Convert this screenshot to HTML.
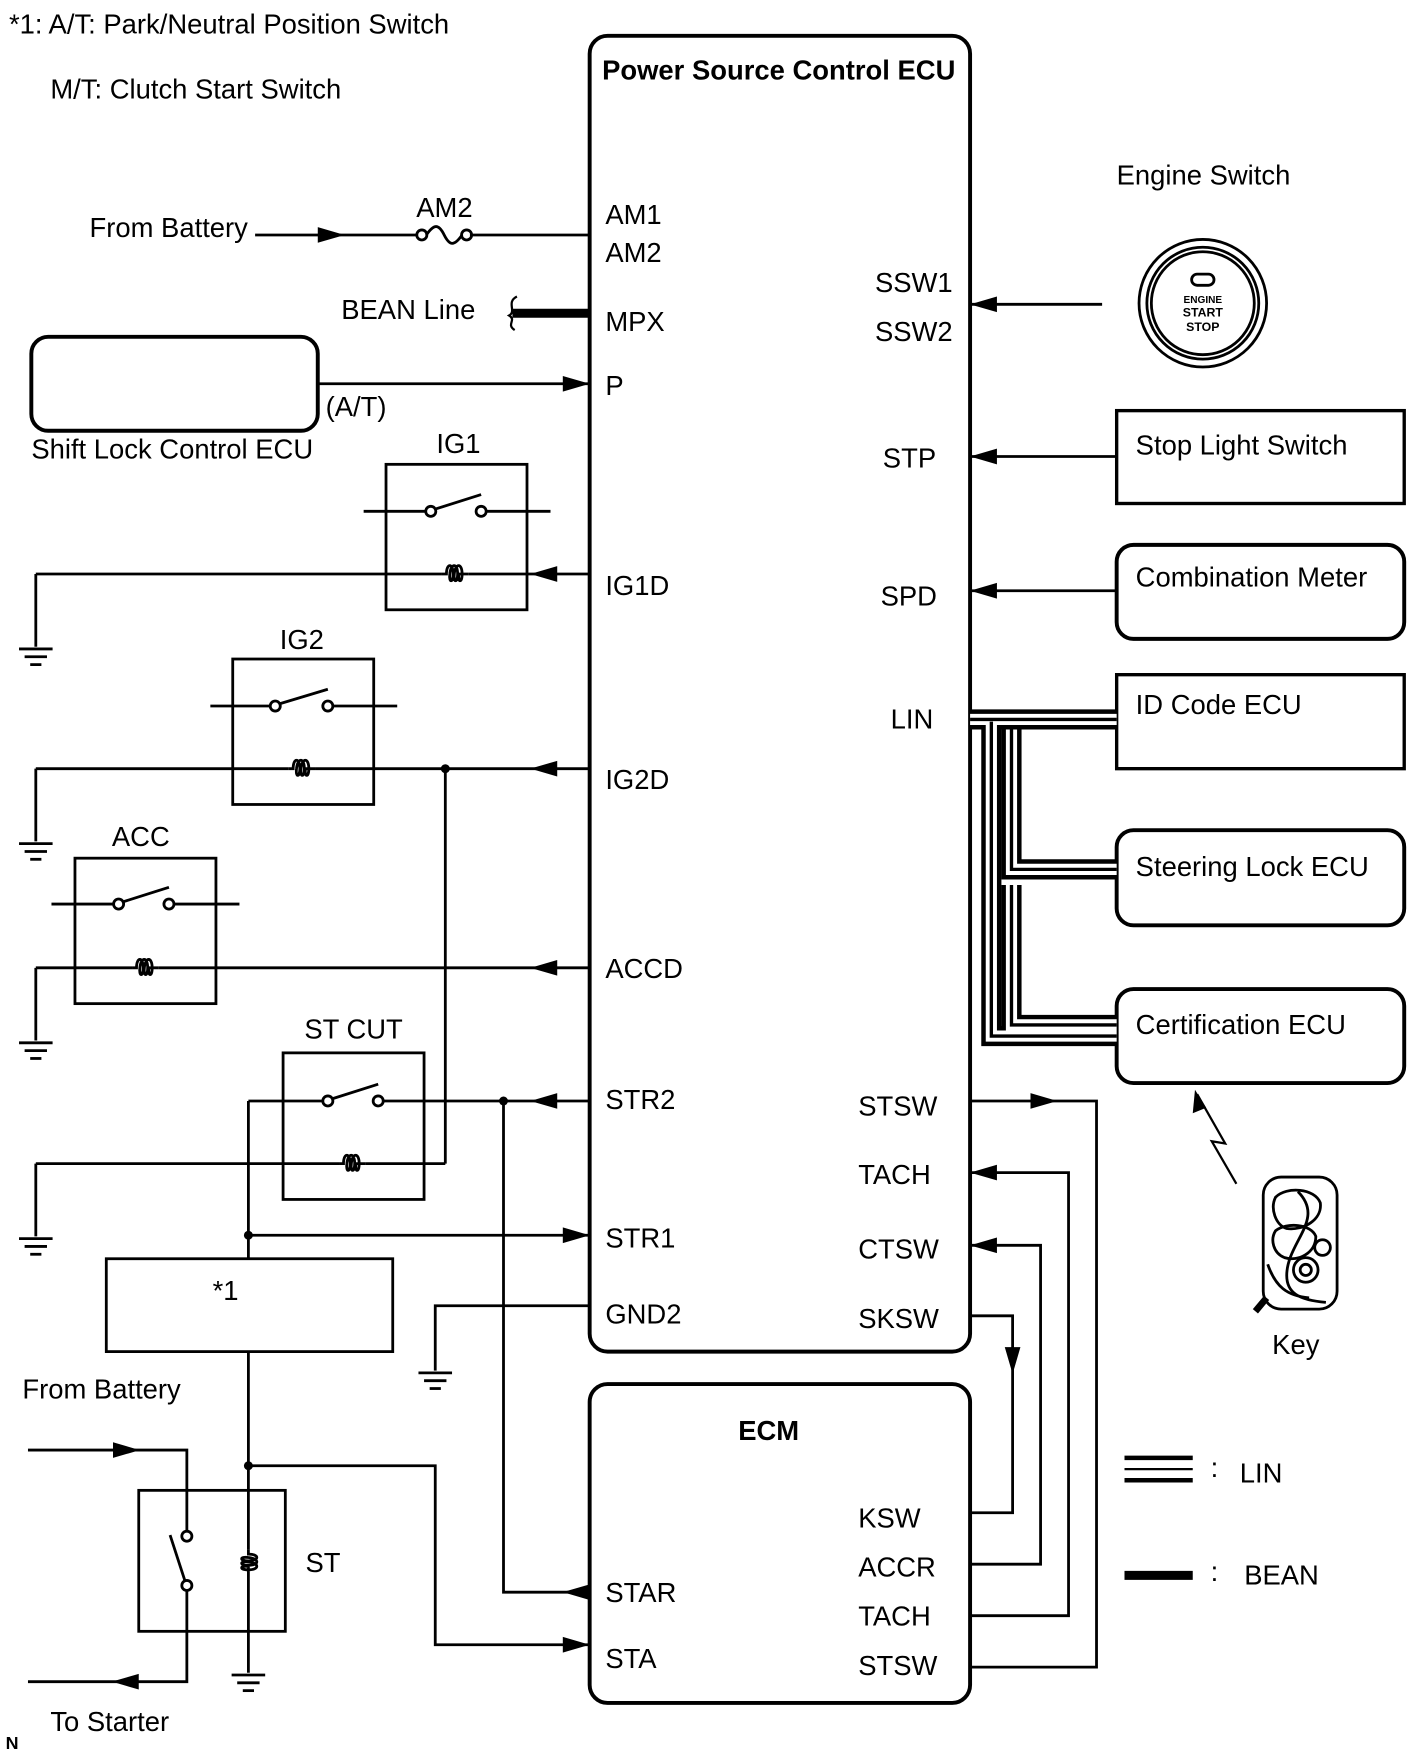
<!DOCTYPE html>
<html><head><meta charset="utf-8"><style>
html,body{margin:0;padding:0;background:#fff;}
svg{display:block;}
text{font-family:"Liberation Sans",sans-serif;font-size:24.5px;fill:#000;}
.b{font-weight:bold;}
</style></head><body>
<svg width="1421" height="1760" viewBox="0 0 1270 1573" preserveAspectRatio="none" xmlns="http://www.w3.org/2000/svg">
<defs>
<polygon id="ar" points="0,0 -24,-7 -24,7" fill="#000"/>
<g id="gnd" stroke="#000" stroke-width="2.5"><line x1="-15" y1="0" x2="15" y2="0"/><line x1="-10" y1="7" x2="10" y2="7"/><line x1="-5" y1="14" x2="5" y2="14"/></g>
<path id="coil" d="M-12,0 H-8 C-8,-10 -2,-10 -2,0 C-2,8 -6,8 -5,0 C-4,-10 2,-10 2,0 C2,8 -2,8 -1,0 C0,-10 6,-10 6,0 C6,8 2,8 3,0 H12" fill="none" stroke="#000" stroke-width="2.5"/>
</defs>
<rect width="1270" height="1573" fill="#fff"/>
<g fill="none" stroke="#000" stroke-width="2.5">
<rect x="527" y="32" width="340" height="1176" rx="16" stroke-width="3.5"/>
<rect x="527" y="1237" width="340" height="285" rx="16" stroke-width="3.5"/>
<line x1="228" y1="210" x2="373" y2="210"/><line x1="420" y1="210" x2="527" y2="210"/>
<circle cx="377" cy="210" r="4.5"/><circle cx="417" cy="210" r="4.5"/>
<path d="M381,210 C388,200 392,200 397,210 C402,220 406,220 413,210"/>
<line x1="458" y1="280" x2="527" y2="280" stroke-width="8"/>
<path d="M462,265 C452,270 462,278 455,282 C462,286 452,290 460,295" stroke-width="2"/>
<rect x="28" y="301" width="256" height="84" rx="15" stroke-width="3.5"/>
<line x1="284" y1="343" x2="527" y2="343"/>
<rect x="345" y="415" width="126" height="130"/>
<line x1="325" y1="457" x2="381" y2="457"/><line x1="434" y1="457" x2="492" y2="457"/>
<circle cx="385" cy="457" r="4.5"/><circle cx="430" cy="457" r="4.5"/><line x1="389" y1="455" x2="430" y2="442"/>
<line x1="32" y1="513" x2="395" y2="513"/><line x1="419" y1="513" x2="527" y2="513"/><line x1="32" y1="513" x2="32" y2="578"/>
<rect x="208" y="589" width="126" height="130"/>
<line x1="188" y1="631" x2="242" y2="631"/><line x1="297" y1="631" x2="355" y2="631"/>
<circle cx="246" cy="631" r="4.5"/><circle cx="293" cy="631" r="4.5"/><line x1="250" y1="629" x2="293" y2="616"/>
<line x1="32" y1="687" x2="258" y2="687"/><line x1="282" y1="687" x2="527" y2="687"/><line x1="32" y1="687" x2="32" y2="752"/>
<rect x="67" y="767" width="126" height="130"/>
<line x1="46" y1="808" x2="102" y2="808"/><line x1="155" y1="808" x2="214" y2="808"/>
<circle cx="106" cy="808" r="4.5"/><circle cx="151" cy="808" r="4.5"/><line x1="110" y1="806" x2="151" y2="793"/>
<line x1="32" y1="865" x2="118" y2="865"/><line x1="142" y1="865" x2="527" y2="865"/><line x1="32" y1="865" x2="32" y2="930"/>
<rect x="253" y="941" width="126" height="131"/>
<line x1="222" y1="984" x2="289" y2="984"/><line x1="342" y1="984" x2="527" y2="984"/>
<circle cx="293" cy="984" r="4.5"/><circle cx="338" cy="984" r="4.5"/><line x1="297" y1="982" x2="338" y2="969"/>
<line x1="32" y1="1040" x2="303" y2="1040"/><line x1="327" y1="1040" x2="398" y2="1040"/><line x1="398" y1="1040" x2="398" y2="687"/><line x1="32" y1="1040" x2="32" y2="1105"/>
<line x1="222" y1="984" x2="222" y2="1125"/><line x1="222" y1="1104" x2="527" y2="1104"/>
<rect x="95" y="1125" width="256" height="83"/>
<line x1="222" y1="1208" x2="222" y2="1385"/><line x1="222" y1="1409" x2="222" y2="1495"/>
<polyline points="222,1310 389,1310 389,1470 527,1470"/>
<polyline points="450,984 450,1423 527,1423"/>
<polyline points="527,1167 389,1167 389,1225"/>
<rect x="124" y="1332" width="131" height="126"/>
<polyline points="25,1296 167,1296 167,1368"/>
<circle cx="167" cy="1373" r="4.5"/><circle cx="167" cy="1417" r="4.5"/>
<line x1="165" y1="1412" x2="152" y2="1372"/>
<polyline points="167,1421 167,1503 25,1503"/>
<line x1="867" y1="272" x2="985" y2="272"/>
<line x1="867" y1="408" x2="998" y2="408"/>
<line x1="867" y1="528" x2="998" y2="528"/>
<rect x="998" y="367" width="257" height="83" stroke-width="3"/>
<rect x="998" y="487" width="257" height="84" rx="15" stroke-width="3.5"/>
<rect x="998" y="603" width="257" height="84" stroke-width="3"/>
<rect x="998" y="742" width="257" height="85" rx="15" stroke-width="3.5"/>
<rect x="998" y="884" width="257" height="84" rx="15" stroke-width="3.5"/>
<polyline points="867,984 980,984 980,1490 867,1490"/>
<polyline points="867,1048 955,1048 955,1444 867,1444"/>
<polyline points="867,1113 930,1113 930,1398 867,1398"/>
<polyline points="867,1176 905,1176 905,1352 867,1352"/>
<circle cx="1075" cy="271" r="57"/>
<circle cx="1075" cy="271" r="50"/>
<circle cx="1075" cy="271" r="46"/>
<rect x="1065" y="245" width="20" height="10" rx="5"/>
</g>
<g fill="none" stroke-linejoin="miter">
<g stroke="#000" stroke-width="18"><path d="M867,643 H998"/><path d="M886,645 V926 H998"/><path d="M904,652 V777 H998"/><path d="M904,791 V916 H998"/></g>
<g stroke="#fff" stroke-width="10"><path d="M867,643 H998"/><path d="M886,645 V926 H998"/><path d="M904,652 V777 H998"/><path d="M904,791 V916 H998"/></g>
<g stroke="#000" stroke-width="3"><path d="M867,643 H998"/><path d="M886,645 V926 H998"/><path d="M904,652 V777 H998"/><path d="M904,791 V916 H998"/></g>
</g>
<use href="#coil" x="407" y="513"/><use href="#coil" x="270" y="687"/><use href="#coil" x="130" y="865"/><use href="#coil" x="315" y="1040"/>
<use href="#coil" transform="translate(222,1397) rotate(90)"/>
<use href="#gnd" x="32" y="580"/><use href="#gnd" x="32" y="754"/><use href="#gnd" x="32" y="932"/><use href="#gnd" x="32" y="1107"/><use href="#gnd" x="389" y="1227"/><use href="#gnd" x="222" y="1497"/>
<g fill="#000"><circle cx="398" cy="687" r="4"/><circle cx="450" cy="984" r="4"/><circle cx="222" cy="1104" r="4"/><circle cx="222" cy="1310" r="4"/></g>
<use href="#ar" transform="translate(308,210)"/>
<use href="#ar" transform="translate(527,343)"/>
<use href="#ar" transform="translate(474,513) rotate(180)"/>
<use href="#ar" transform="translate(474,687) rotate(180)"/>
<use href="#ar" transform="translate(474,865) rotate(180)"/>
<use href="#ar" transform="translate(474,984) rotate(180)"/>
<use href="#ar" transform="translate(527,1104)"/>
<use href="#ar" transform="translate(503,1423) rotate(180)"/>
<use href="#ar" transform="translate(527,1470)"/>
<use href="#ar" transform="translate(125,1296)"/>
<use href="#ar" transform="translate(100,1503) rotate(180)"/>
<use href="#ar" transform="translate(867,272) rotate(180)"/>
<use href="#ar" transform="translate(867,408) rotate(180)"/>
<use href="#ar" transform="translate(867,528) rotate(180)"/>
<use href="#ar" transform="translate(867,1048) rotate(180)"/>
<use href="#ar" transform="translate(867,1113) rotate(180)"/>
<use href="#ar" transform="translate(945,984)"/>
<use href="#ar" transform="translate(905,1228) rotate(90)"/>
<polyline points="1105,1058 1083,1020 1095,1022 1070,978" fill="none" stroke="#000" stroke-width="2"/>
<polygon points="1068,974 1066,995 1078,990" fill="#000"/>
<g fill="none" stroke="#000" stroke-width="2.5">
<rect x="1129" y="1052" width="66" height="118" rx="16"/>
<path d="M1140,1070 C1150,1060 1175,1062 1180,1075 C1182,1090 1165,1100 1150,1098 C1140,1095 1135,1080 1140,1070 Z"/>
<path d="M1140,1100 C1150,1092 1172,1094 1176,1105 C1176,1120 1160,1128 1148,1124 C1138,1120 1135,1108 1140,1100 Z"/>
<circle cx="1182" cy="1115" r="7"/><circle cx="1167" cy="1135" r="11"/><circle cx="1167" cy="1135" r="5"/>
<path d="M1160,1065 C1185,1090 1150,1110 1150,1140 C1150,1155 1160,1162 1185,1164"/>
<path d="M1133,1130 C1140,1150 1150,1158 1170,1160"/>
</g>
<line x1="1132" y1="1160" x2="1122" y2="1172" stroke="#000" stroke-width="6"/>
<g stroke="#000"><line x1="1005" y1="1303" x2="1066" y2="1303" stroke-width="4"/><line x1="1005" y1="1313" x2="1066" y2="1313" stroke-width="2"/><line x1="1005" y1="1323" x2="1066" y2="1323" stroke-width="4"/>
<line x1="1005" y1="1408" x2="1066" y2="1408" stroke-width="8"/></g>
<text x="8" y="30">*1: A/T: Park/Neutral Position Switch</text>
<text x="45" y="88">M/T: Clutch Start Switch</text>
<text class="b" x="696" y="71" text-anchor="middle">Power Source Control ECU</text>
<text x="80" y="212">From Battery</text>
<text x="372" y="194">AM2</text>
<text x="305" y="285">BEAN Line</text>
<text x="291" y="372">(A/T)</text>
<text x="28" y="410">Shift Lock Control ECU</text>
<text x="390" y="405">IG1</text>
<text x="250" y="580">IG2</text>
<text x="100" y="756">ACC</text>
<text x="272" y="928">ST CUT</text>
<text x="190" y="1162">*1</text>
<text x="20" y="1250">From Battery</text>
<text x="273" y="1405">ST</text>
<text x="45" y="1547">To Starter</text>
<text class="b" x="5" y="1563" style="font-size:16px">N</text>
<text x="541" y="200">AM1</text><text x="541" y="234">AM2</text><text x="541" y="296">MPX</text><text x="541" y="353">P</text>
<text x="541" y="532">IG1D</text><text x="541" y="705">IG2D</text><text x="541" y="874">ACCD</text><text x="541" y="991">STR2</text>
<text x="541" y="1115">STR1</text><text x="541" y="1183">GND2</text>
<text x="782" y="261">SSW1</text><text x="782" y="305">SSW2</text><text x="789" y="418">STP</text><text x="787" y="541">SPD</text><text x="796" y="651">LIN</text>
<text x="767" y="997">STSW</text><text x="767" y="1058">TACH</text><text x="767" y="1125">CTSW</text><text x="767" y="1187">SKSW</text>
<text class="b" x="687" y="1287" text-anchor="middle">ECM</text>
<text x="541" y="1432">STAR</text><text x="541" y="1491">STA</text>
<text x="767" y="1365">KSW</text><text x="767" y="1409">ACCR</text><text x="767" y="1453">TACH</text><text x="767" y="1497">STSW</text>
<text x="998" y="165">Engine Switch</text>
<text x="1015" y="406">Stop Light Switch</text>
<text x="1015" y="524">Combination Meter</text>
<text x="1015" y="638">ID Code ECU</text>
<text x="1015" y="783">Steering Lock ECU</text>
<text x="1015" y="924">Certification ECU</text>
<text x="1137" y="1210">Key</text>
<text x="1082" y="1320">:</text><text x="1108" y="1325">LIN</text>
<text x="1082" y="1413">:</text><text x="1112" y="1416">BEAN</text>
<text class="b" x="1075" y="271" text-anchor="middle" style="font-size:9px">ENGINE</text>
<text class="b" x="1075" y="283" text-anchor="middle" style="font-size:11px">START</text>
<text class="b" x="1075" y="296" text-anchor="middle" style="font-size:11px">STOP</text>
</svg>
</body></html>
